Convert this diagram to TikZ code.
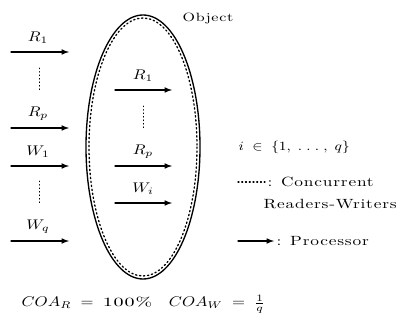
\documentclass[tikz,border=0pt]{standalone}
\usepackage{fontspec}
\newfontfamily\spaced{Latin Modern Roman}[FakeStretch=1.3,LetterSpace=6]
\newcommand\wide[1]{\scalebox{1.25}[1.05]{#1}}
\begin{document}
\begin{tikzpicture}[x=0.75pt,y=-0.75pt,line cap=round,line join=round,>=latex]
  \useasboundingbox (0,0) rectangle (407,324);
  % object
  \draw[line width=1pt] (143,147) ellipse [x radius=57,y radius=132];
  \draw[line width=1pt,dotted] (143,147) ellipse [x radius=54,y radius=129];
  \node[anchor=west,font=\spaced\small,inner sep=1pt] (obj) at (181,19) {Object};
  % processors outside
  \coordinate (r1a) at (11,52);  \coordinate (r1b) at (69,52);
  \coordinate (rpa) at (11,128); \coordinate (rpb) at (69,128);
  \coordinate (w1a) at (11,166); \coordinate (w1b) at (69,166);
  \coordinate (wqa) at (11,241); \coordinate (wqb) at (69,241);
  \draw[line width=0.9pt,->] (r1a) -- (r1b);
  \draw[line width=0.9pt,->] (rpa) -- (rpb);
  \draw[line width=0.9pt,->] (w1a) -- (w1b);
  \draw[line width=0.9pt,->] (wqa) -- (wqb);
  \node (lr1) at (38,38) {\wide{$R_1$}};
  \node (lrp) at (38,114) {\wide{$R_p$}};
  \node (lw1) at (38,152) {\wide{$W_1$}};
  \node (lwq) at (38,227) {\wide{$W_q$}};
  \draw[dotted,line width=0.6pt] (39,68) -- (39,90);
  \draw[dotted,line width=0.6pt] (39,181) -- (39,203);
  % processors inside
  \coordinate (ir1a) at (115,90);  \coordinate (ir1b) at (172,90);
  \coordinate (irpa) at (115,166); \coordinate (irpb) at (172,166);
  \coordinate (iwia) at (115,203); \coordinate (iwib) at (172,203);
  \draw[line width=0.9pt,->] (ir1a) -- (ir1b);
  \draw[line width=0.9pt,->] (irpa) -- (irpb);
  \draw[line width=0.9pt,->] (iwia) -- (iwib);
  \node (ilr1) at (143,76) {\wide{$R_1$}};
  \node (ilrp) at (143,152) {\wide{$R_p$}};
  \node (ilwi) at (143,189) {\wide{$W_i$}};
  \draw[dotted,line width=0.6pt] (143,106) -- (143,128);
  % legend
  \node[anchor=west,inner sep=1pt,font=\small] (idx) at (237,147) {\wide{$i\;\in\;\{1,\;.\;.\;.\;,\;q\}$}};
  \coordinate (lga) at (238,182); \coordinate (lgb) at (265,182);
  \draw[dotted,line width=0.8pt] (lga) -- (lgb);
  \node[anchor=west,font=\spaced,inner sep=1pt] (conc) at (266,182) {: Concurrent};
  \node[anchor=west,font=\spaced,inner sep=1pt] (rw) at (262,204) {Readers-Writers};
  \coordinate (lpa) at (238,241); \coordinate (lpb) at (274,241);
  \draw[line width=0.9pt,->] (lpa) -- (lpb);
  \node[anchor=west,font=\spaced,inner sep=1pt] (proc) at (275,241) {: Processor};
  % ratios
  \node[anchor=west,inner sep=1pt] (coa) at (20,304) {\wide{$COA_R\;=\;\mbox{\spaced\small 100\%}\quad COA_W\;=\;\frac{1}{q}$}};
\end{tikzpicture}
\end{document}
